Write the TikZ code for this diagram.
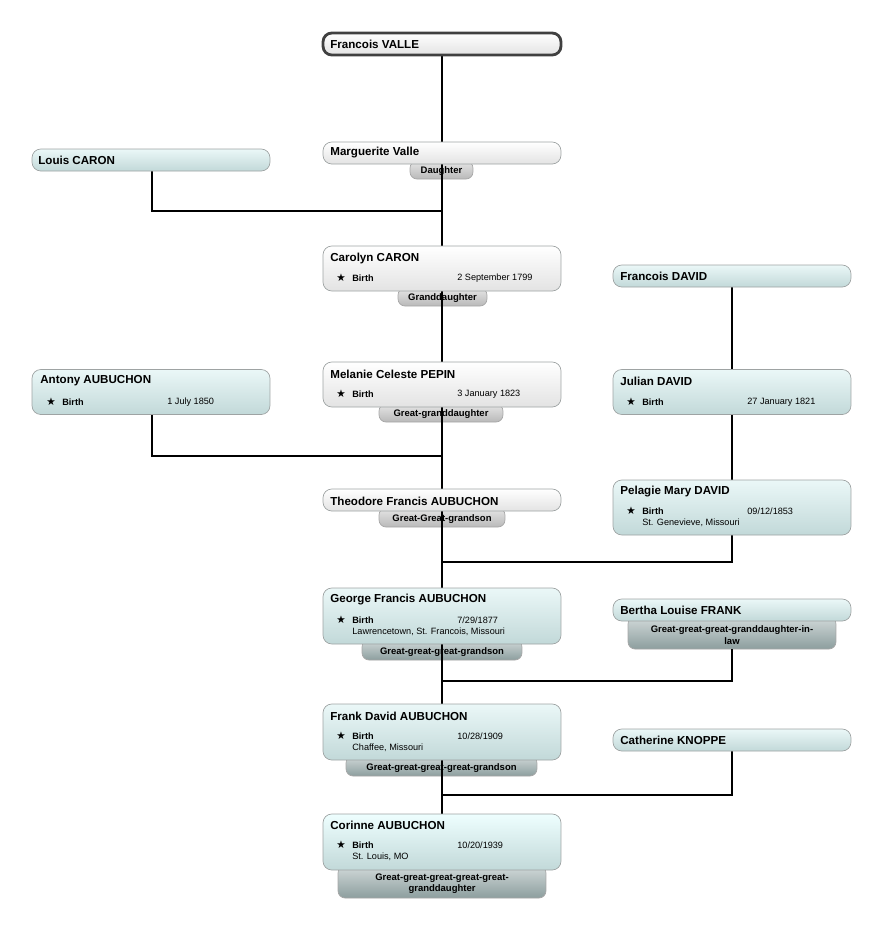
\documentclass[tikz,border=0pt]{standalone}
\usepackage{fontspec}
\setmainfont{Liberation Sans}
\newfontfamily\symfont{DejaVu Sans}
\usetikzlibrary{calc, positioning, shadings}
\definecolor{boxline}{rgb}{0.62, 0.64, 0.64}
\definecolor{cyantop}{rgb}{0.92, 0.97, 0.97}
\definecolor{cyanbot}{rgb}{0.76, 0.85, 0.85}
\definecolor{tagtop}{rgb}{0.82, 0.85, 0.85}
\definecolor{tagbot}{rgb}{0.55, 0.62, 0.62}

\tikzset{
    person/.style={draw=boxline, rounded corners=5pt, top color=white, bottom color=gray!22, inner sep=0pt, minimum width=4.76cm},
    cperson/.style={person, top color=cyantop, bottom color=cyanbot},
    tagbox/.style={draw=gray!70, rounded corners=4pt, top color=gray!20, bottom color=gray!55, inner sep=0pt},
    ctagbox/.style={tagbox, top color=tagtop, bottom color=tagbot},
    pname/.style={anchor=west, font=\fontsize{6.6}{8}\selectfont\bfseries, inner sep=0pt},
    tagtext/.style={font=\fontsize{5.4}{6.4}\selectfont\bfseries, align=center, inner sep=0pt},
    small/.style={anchor=west, font=\fontsize{5.2}{6}\selectfont, inner sep=0pt},
    link/.style={line width=1.1pt}
}
% star, Birth, date and place; #1 = left, #2 = row y
\newcommand{\birthrow}[4]{%
    \node[small] at (#1+6,#2) {{\symfont\fontsize{6}{6}\selectfont ★}};
    \node[small] at (#1+22,#2) {\bfseries Birth};
    \node[small] at (#1+127,#2) {#3};
    \node[small] at (#1+22,#2+12) {#4};
}

\begin{document}
\begin{tikzpicture}[x=0.02cm, y=-0.02cm]
    \useasboundingbox (0,0) rectangle (884,931);

    % tags first, so that the boxes sit on top of them
    \node[tagbox, minimum width=1.26cm, minimum height=0.36cm] (tDaughter) at (441.5,170) {};
    \node[tagtext] at (441.5,171.5) {Daughter};
    \node[tagbox, minimum width=1.78cm, minimum height=0.36cm] (tCarolyn) at (442.5,297) {};
    \node[tagtext] at (442.5,298.5) {Granddaughter};
    \node[tagbox, minimum width=2.48cm, minimum height=0.36cm] (tMelanie) at (441,413) {};
    \node[tagtext] at (441,414.5) {Great-granddaughter};
    \node[tagbox, minimum width=2.52cm, minimum height=0.38cm] (tTheodore) at (442,517.5) {};
    \node[tagtext] at (442,519.5) {Great-Great-grandson};
    \node[ctagbox, minimum width=3.2cm, minimum height=0.40cm] (tGeorge) at (442,650) {};
    \node[tagtext] at (442,652) {Great-great-great-grandson};
    \node[ctagbox, minimum width=4.16cm, minimum height=0.64cm] (tBertha) at (732,633) {};
    \node[tagtext] at (732,635) {Great-great-great-granddaughter-in-\\law};
    \node[ctagbox, minimum width=3.82cm, minimum height=0.40cm] (tFrank) at (441.5,766) {};
    \node[tagtext] at (441.5,768) {Great-great-great-great-grandson};
    \node[ctagbox, minimum width=4.16cm, minimum height=0.64cm] (tCorinne) at (442,882) {};
    \node[tagtext] at (442,884) {Great-great-great-great-great-\\granddaughter};

    % connectors
    \coordinate (jLouis) at (442,211);
    \coordinate (jAntony) at (442,456);
    \coordinate (jPelagie) at (442,562);
    \coordinate (jBertha) at (442,681);
    \coordinate (jCatherine) at (442,795);
    \draw[link] (442,55) -- (442,814);
    \draw[link] (152,171) |- (jLouis);
    \draw[link] (152,414) |- (jAntony);
    \draw[link] (732,287) -- (732,370);
    \draw[link] (732,414) -- (732,480);
    \draw[link] (732,535) |- (jPelagie);
    \draw[link] (732,649) |- (jBertha);
    \draw[link] (732,751) |- (jCatherine);

    % people
    \node[person, draw=black!75, line width=1.6pt, minimum height=0.44cm] (valle) at (442,44) {};
    \node[pname] at (330,44) {Francois VALLE};

    \node[person, minimum height=0.44cm] (marguerite) at (442,153) {};
    \node[pname] at (330,153) {Marguerite Valle};

    \node[cperson, minimum height=0.44cm] (louis) at (151,160) {};
    \node[pname] at (38,160) {Louis CARON};

    \node[person, minimum height=0.9cm] (carolyn) at (442,268.5) {};
    \node[pname] at (330,258) {Carolyn CARON};
    \birthrow{330}{278}{2 September 1799}{}

    \node[cperson, minimum height=0.44cm] (fdavid) at (732,276) {};
    \node[pname] at (620,276) {Francois DAVID};

    \node[cperson, minimum height=0.9cm] (antony) at (151,392) {};
    \node[pname] at (40,381) {Antony AUBUCHON};
    \birthrow{40}{402}{1 July 1850}{}

    \node[person, minimum height=0.9cm] (melanie) at (442,384.5) {};
    \node[pname] at (330,374) {Melanie Celeste PEPIN};
    \birthrow{330}{394}{3 January 1823}{}

    \node[cperson, minimum height=0.9cm] (julian) at (732,392) {};
    \node[pname] at (620,381) {Julian DAVID};
    \birthrow{620}{402}{27 January 1821}{}

    \node[person, minimum height=0.44cm] (theodore) at (442,500) {};
    \node[pname] at (330,501) {Theodore Francis AUBUCHON};

    \node[cperson, minimum height=1.1cm] (pelagie) at (732,507.5) {};
    \node[pname] at (620,492) {Pelagie Mary DAVID};
    \birthrow{620}{511}{09/12/1853}{St. Genevieve, Missouri}

    \node[cperson, minimum height=1.12cm] (george) at (442,616) {};
    \node[pname] at (330,600) {George Francis AUBUCHON};
    \birthrow{330}{620}{7/29/1877}{Lawrencetown, St. Francois, Missouri}

    \node[cperson, minimum height=0.44cm] (bertha) at (732,610) {};
    \node[pname] at (620,610) {Bertha Louise FRANK};

    \node[cperson, minimum height=1.12cm] (frank) at (442,732) {};
    \node[pname] at (330,716) {Frank David AUBUCHON};
    \birthrow{330}{736}{10/28/1909}{Chaffee, Missouri}

    \node[cperson, minimum height=0.44cm] (catherine) at (732,740) {};
    \node[pname] at (620,740) {Catherine KNOPPE};

    \node[cperson, top color=cyantop!60!cyan!15, minimum height=1.12cm] (corinne) at (442,842) {};
    \node[pname] at (330,825) {Corinne AUBUCHON};
    \birthrow{330}{845}{10/20/1939}{St. Louis, MO}
\end{tikzpicture}
\end{document}
